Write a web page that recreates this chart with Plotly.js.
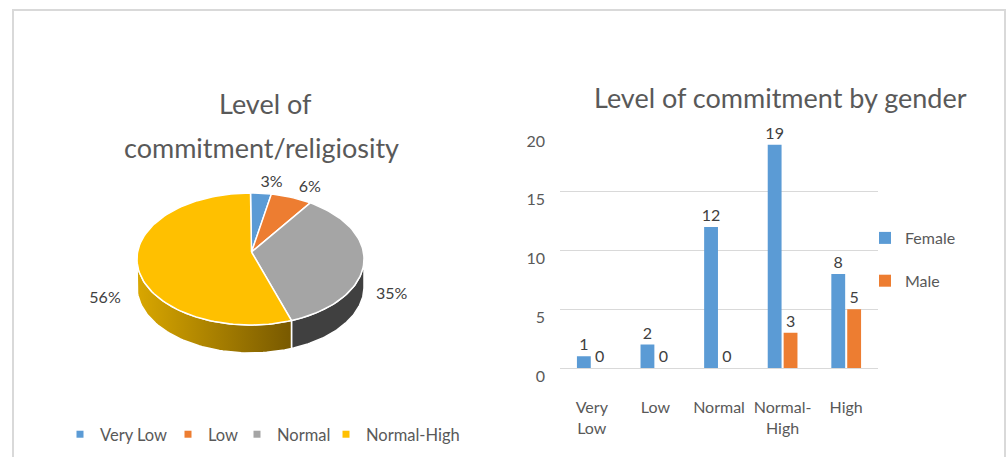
<!DOCTYPE html>
<html>
<head>
<meta charset="utf-8">
<script src="https://cdn.plot.ly/plotly-3.0.1.min.js"></script>
<style>html,body{margin:0;padding:0;background:#fff;}#chart{width:1006px;height:457px;}</style>
</head>
<body>
<div id="chart"></div>
<script>
// ---- Data ----
const pieLabels = ["Very Low", "Low", "Normal", "Normal-High"];
const pieValues = [1, 2, 12, 19];
const pieColors = ["#5B9BD5", "#ED7D31", "#A5A5A5", "#FFC000"];
const sideColors = ["#3A6D9C", "#A8561F", "#404040", null];

const barCategories = ["Very Low", "Low", "Normal", "Normal-High", "High"];
const barTickText = ["Very<br>Low", "Low", "Normal", "Normal-<br>High", "High"];
const femaleValues = [1, 2, 12, 19, 8];
const maleValues = [0, 0, 0, 3, 5];

const pieTitle = ["Level of", "commitment/religiosity"];
const barTitle = "Level of commitment by gender";

// ---- Styling / geometry constants ----
const FONT = "Lato, 'Open Sans', sans-serif";
const TXT = "#595959";
const W = 1006, H = 457;
const cx = 250.5, cy = 259, rx = 113.5, ry = 66, depth = 28;
const apexX = 251.5, apexY = 252;
// x position (px) of each pie legend entry's text
const pieLegendTextX = [100, 208, 277, 366];

function rimPt(deg, dy) {
  const t = deg * Math.PI / 180;
  return [cx + rx * Math.sin(t), cy - ry * Math.cos(t) + (dy || 0)];
}

const traces = [];
const total = pieValues.reduce((a, b) => a + b, 0);
let acc = 0;
const slices = pieValues.map((v, i) => {
  const a0 = acc / total * 360;
  acc += v;
  const a1 = acc / total * 360;
  return {a0, a1, v, i};
});

// side walls (front half: 90..270 deg)
slices.forEach(s => {
  const lo = Math.max(s.a0, 90), hi = Math.min(s.a1, 270);
  if (hi <= lo) return;
  const xs = [], ys = [];
  const n = 60;
  for (let k = 0; k <= n; k++) {
    const p = rimPt(lo + (hi - lo) * k / n, 0);
    xs.push(p[0]); ys.push(p[1]);
  }
  for (let k = n; k >= 0; k--) {
    const p = rimPt(lo + (hi - lo) * k / n, depth);
    xs.push(p[0]); ys.push(p[1]);
  }
  xs.push(xs[0]); ys.push(ys[0]);
  const tr = {
    type: "scatter", mode: "lines", x: xs, y: ys, xaxis: "x2", yaxis: "y2",
    fill: "toself", line: {color: "#ffffff", width: 1.5}, hoverinfo: "skip", showlegend: false
  };
  if (s.i === 3) {
    tr.fillgradient = {type: "horizontal", colorscale: [[0, "#D9A700"], [1, "#785900"]]};
  } else {
    tr.fillcolor = sideColors[s.i];
  }
  traces.push(tr);
});

// top faces
slices.forEach(s => {
  const xs = [apexX], ys = [apexY];
  const n = Math.max(4, Math.ceil((s.a1 - s.a0) / 2));
  for (let k = 0; k <= n; k++) {
    const p = rimPt(s.a0 + (s.a1 - s.a0) * k / n, 0);
    xs.push(p[0]); ys.push(p[1]);
  }
  xs.push(apexX); ys.push(apexY);
  traces.push({
    type: "scatter", mode: "lines", x: xs, y: ys, xaxis: "x2", yaxis: "y2",
    fill: "toself", fillcolor: pieColors[s.i], line: {color: "#ffffff", width: 1.5},
    name: pieLabels[s.i], hoverinfo: "name", showlegend: false
  });
});

// percent labels
const lx = [], ly = [], lt = [];
slices.forEach(s => {
  const mid = (s.a0 + s.a1) / 2 * Math.PI / 180;
  const c = Math.cos(mid), sn = Math.sin(mid);
  if (c > 0.2) {
    lx.push(cx + rx * 1.25 * sn + 8 * Math.sign(sn));
    ly.push(cy - ry * 1.15 * c);
  } else {
    lx.push(cx + rx * 1.25 * sn + (sn < 0 ? -6 : 0));
    ly.push(cy - ry * 1.25 * c + depth - (sn < 0 ? 3 : 0));
  }
  lt.push(Math.round(s.v / total * 100) + "%");
});
traces.push({
  type: "scatter", mode: "text", x: lx, y: ly, text: lt, xaxis: "x2", yaxis: "y2",
  textposition: "middle center", textfont: {family: FONT, size: 16, color: "#404040"},
  hoverinfo: "skip", showlegend: false
});

// pie legend entries (one legend each so they can be placed like the original)
const pieLegendIds = ["legend", "legend3", "legend4", "legend5"];
pieLabels.forEach((lab, i) => {
  traces.push({
    type: "scatter", mode: "markers", x: [null], y: [null], xaxis: "x2", yaxis: "y2",
    name: lab, marker: {symbol: "square", size: 7, color: pieColors[i]},
    legend: pieLegendIds[i], showlegend: true
  });
});

// bars
traces.push({
  type: "bar", name: "Female", x: barCategories, y: femaleValues,
  marker: {color: "#5B9BD5"}, text: femaleValues.map(String), textposition: "outside",
  constraintext: "none",
  textfont: {family: FONT, size: 16, color: "#404040"}, cliponaxis: false,
  legend: "legend2", legendgroup: "f"
});
traces.push({
  type: "bar", name: "Male", x: barCategories, y: maleValues,
  marker: {color: "#ED7D31"}, text: maleValues.map(String), textposition: "outside",
  constraintext: "none",
  textfont: {family: FONT, size: 16, color: "#404040"}, cliponaxis: false,
  legend: "legend2", legendgroup: "m"
});

const layout = {
  width: W, height: H,
  margin: {l: 0, r: 0, t: 0, b: 0},
  paper_bgcolor: "#ffffff", plot_bgcolor: "rgba(0,0,0,0)",
  font: {family: FONT, color: TXT},
  barmode: "group", bargap: 0.5, bargroupgap: 0.13,
  xaxis: {
    domain: [560 / W, 878 / W], anchor: "y", type: "category",
    tickvals: barCategories, ticktext: barTickText,
    tickfont: {family: FONT, size: 16, color: TXT},
    showgrid: false, showline: false, ticks: "", ticklabelstandoff: 28, fixedrange: true
  },
  yaxis: {
    domain: [(H - 368) / H, (H - 133) / H], anchor: "x", range: [0, 20], dtick: 5,
    tickfont: {family: FONT, size: 16, color: TXT},
    gridcolor: "#D9D9D9", gridwidth: 1, zeroline: true, zerolinecolor: "#D9D9D9", zerolinewidth: 1,
    showline: false, ticks: "", ticklabelstandoff: 14, ticklabelshift: 8, fixedrange: true
  },
  xaxis2: {domain: [0, 503 / W], range: [0, 503], anchor: "y2", visible: false, fixedrange: true},
  yaxis2: {domain: [0, 1], range: [H, 0], anchor: "x2", visible: false, fixedrange: true},
  legend2: {
    orientation: "v", x: 865 / W, y: 1 - 221 / H, xanchor: "left", yanchor: "top",
    font: {family: FONT, size: 16, color: TXT}, itemwidth: 30, tracegroupgap: 19,
    bgcolor: "rgba(0,0,0,0)"
  },
  shapes: [{
    type: "rect", xref: "paper", yref: "paper",
    x0: 13 / W, x1: 1005 / W, y0: -0.05, y1: 1 - 10 / H,
    line: {color: "#D9D9D9", width: 2}, fillcolor: "rgba(0,0,0,0)", layer: "below"
  }],
  annotations: [
    {xref: "paper", yref: "paper", x: 265 / W, y: 1 - 103 / H, text: pieTitle[0], showarrow: false,
     xanchor: "center", yanchor: "middle", font: {family: FONT, size: 27, color: TXT}},
    {xref: "paper", yref: "paper", x: 261 / W, y: 1 - 147 / H, text: pieTitle[1], showarrow: false,
     xanchor: "center", yanchor: "middle", font: {family: FONT, size: 27, color: TXT}},
    {xref: "paper", yref: "paper", x: 780 / W, y: 1 - 97 / H, text: barTitle, showarrow: false,
     xanchor: "center", yanchor: "middle", font: {family: FONT, size: 27, color: TXT}}
  ]
};
pieLegendIds.forEach((id, i) => {
  layout[id] = {
    orientation: "h", x: (pieLegendTextX[i] - 40) / W, y: 1 - 417 / H, xanchor: "left", yanchor: "top",
    font: {family: FONT, size: 16.5, color: TXT}, itemwidth: 30, bgcolor: "rgba(0,0,0,0)"
  };
});

Plotly.newPlot("chart", traces, layout, {displayModeBar: false, staticPlot: true});
</script>
</body>
</html>
